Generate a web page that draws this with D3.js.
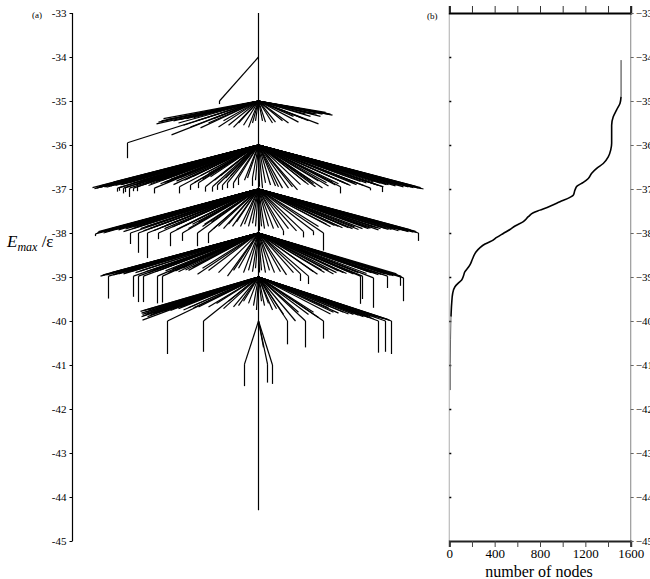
<!DOCTYPE html>
<html><head><meta charset="utf-8">
<script src="https://cdn.jsdelivr.net/npm/d3@7"></script>
<style>body{margin:0;background:#fff}svg{display:block}text{font-family:'Liberation Serif','Times New Roman',serif}</style>
</head><body>
<svg id="c" width="650" height="579"></svg>
<script>
// ---------- panel (a): disconnectivity graph ----------
const energyTicks = [-33,-34,-35,-36,-37,-38,-39,-40,-41,-42,-43,-44,-45];
const trunkTop = -33, trunkBottom = -44.3;
const levels = [-34,-35,-36,-37,-38,-39,-40];
// each branch: [horizontal position, end energy, optional energy of vertical drop]
const branches34 = [[-39,-35.0,-35.07]];
const branches35 = [
 [-131,-35.95,-36.3],[-102,-35.52],[-100,-35.48],[-97,-35.45],[-95,-35.4],[-92,-35.42],[-87,-35.77],[-85,-35.45],
 [-80,-35.5],[-78,-35.42],[-75,-35.55],[-72,-35.4],[-68,-35.59],[-65,-35.38],[-62,-35.45],
 [-58,-35.61],[-50,-35.5],[-45,-35.4],[-40,-35.59],[-35,-35.45],[-30,-35.55],[-25,-35.6],[-20,-35.5],
 [-15,-35.55],[-10,-35.6],[-6,-35.5],[-3,-35.45],
 [74,-35.32],[72,-35.3],[70,-35.3],[68,-35.28],[67,-35.26],[64,-35.3],[62,-35.35],[60,-35.52],[58,-35.3],[55,-35.3],
 [52,-35.35],[50,-35.45],[47,-35.3],[44,-35.39],[40,-35.48],[35,-35.35],
 [30,-35.5],[24,-35.45],[17,-35.48],[14,-35.5],[7,-35.48],[4,-35.45]];
const branches36 = [
 [-166,-36.97],[-164,-36.99],[-162,-36.98],[-160,-36.95],[-158,-36.96],[-157,-36.92],[-155,-36.93],[-154,-36.95],
 [-152,-36.96],[-150,-36.9],[-148,-36.93],[-147,-36.88],[-145,-36.84],[-143,-36.92],[-141,-36.98,-37.06],
 [-139,-36.97,-37.04],[-138,-36.9],[-137,-36.9],[-135,-36.98,-37.1],[-134,-36.88],[-133,-36.97,-37.07],[-130,-36.86],
 [-129,-36.98,-37.18],[-126,-36.87],[-125,-36.98,-37.05],[-122,-36.9],[-121,-36.95,-37.05],[-120,-36.85],[-118,-36.83],
 [-117,-36.8],[-115,-36.9],[-112,-36.85],[-110,-36.92],[-108,-36.88],[-107,-36.78],[-104,-36.98,-37.1],[-102,-36.82],
 [-100,-36.8],[-98,-36.88],[-96,-36.8],[-95,-36.76],[-94,-36.85],[-92,-36.85],[-90,-36.75],[-88,-36.78],
 [-85,-36.9],[-82,-36.82],[-79,-36.95,-37.1],[-78,-36.74],[-74,-36.8],[-72,-36.78],[-70,-36.7],[-68,-36.91,-37.02],
 [-66,-36.72],[-64,-36.85],[-60,-36.86,-36.98],[-58,-36.7],[-56,-36.78],
 [-53,-36.95,-37.06],[-50,-36.65],[-48,-36.72],[-46,-36.95,-37.06],[-44,-36.8],[-41,-36.91,-37.02],[-38,-36.7],
 [-36,-36.91,-37.02],[-33,-36.75],[-31,-36.86,-36.98],[-28,-36.7],
 [-25,-36.86,-36.98],[-20,-36.75,-36.91],[-14,-36.8],[-11,-36.75],[-6,-36.75,-36.93],[-3,-36.8],
 [165,-37.0],[163,-36.99],[162,-36.97],[160,-36.98],[158,-36.96],[157,-36.94],[155,-36.97],[153,-36.95],[152,-36.92],
 [150,-36.95],[148,-36.93],[147,-36.9],[145,-36.95],[143,-36.92],[140,-36.88],[138,-36.91],[137,-36.93],[135,-36.89],
 [133,-36.86],[130,-36.9],[128,-36.9],[125,-36.95],[124,-36.95,-37.07],[122,-36.87],[120,-36.92],[118,-36.9],
 [116,-36.88],[115,-36.84],[112,-36.98,-37.03],[108,-36.86],[105,-36.92],[102,-36.83],[100,-36.88],[98,-36.9],
 [95,-36.85],[92,-36.92],[90,-36.9],[86,-36.86],[82,-36.95,-37.1],[80,-36.88],
 [77,-36.91],[74,-36.84],[70,-36.93],[68,-36.86],[64,-36.98],[60,-36.82],[57,-36.95],[55,-36.88],[52,-36.8],
 [50,-36.9],[47,-36.85],[42,-36.9],[39,-37.02],[34,-36.95],
 [30,-36.98],[24,-36.98],[20,-36.95],[17,-36.93],[12,-36.91],[7,-36.86],[4,-36.98],[1,-36.95]];
const branches37 = [
 [-163,-38.02,-38.07],[-161,-37.99],[-160,-37.97],[-158,-37.98],[-156,-37.96],[-155,-38.0],[-153,-37.97],[-152,-37.94],
 [-150,-37.95],[-149,-37.93],[-147,-37.9],[-145,-37.92],[-143,-37.92],[-140,-37.93],[-139,-37.9],[-137,-37.88],
 [-135,-37.97],[-133,-37.91],[-132,-37.86],[-130,-37.88],
 [-128,-38.0,-38.25],[-126,-37.9],[-124,-37.85],[-122,-37.86],[-120,-38.0,-38.45],[-118,-37.9],[-115,-37.95],
 [-113,-37.86],[-111,-38.0,-38.57],[-109,-37.9],[-108,-37.84],[-105,-37.95],[-103,-37.85],[-100,-38.0,-38.14],
 [-98,-37.88],[-94,-37.9],[-92,-37.82],[-88,-38.0,-38.3],[-86,-37.86],[-82,-37.92],[-80,-37.8],[-76,-38.0,-38.18],
 [-74,-37.84],[-70,-37.9],[-66,-37.8],[-61,-38.0,-38.3],[-60,-37.75],[-56,-37.85],[-54,-37.8],
 [-50,-38.0,-38.23],[-47,-37.75],[-45,-37.9],[-40,-37.85],[-35,-37.9],[-30,-37.8],[-26,-37.85],[-22,-37.75],[-18,-37.85],
 [-14,-37.8],[-10,-37.85],[-6,-37.78],[-3,-37.85],
 [160,-38.0,-38.18],[158,-37.98],[157,-37.96],[155,-37.98],[154,-37.96],[152,-37.93],[150,-37.97],[149,-37.95],
 [146,-37.94],[145,-37.92],[142,-37.93],[140,-37.95],[138,-37.91],[135,-37.9],[133,-37.92],[130,-37.92],[128,-37.9],
 [125,-37.88],[122,-37.9],[120,-37.93],[118,-37.88],[115,-37.86],[112,-37.89],[110,-37.9],[107,-37.86],[104,-37.9],
 [100,-37.92],[96,-37.86],[94,-37.9],[90,-37.88],[86,-37.84],[84,-37.88],[80,-37.85],[76,-37.83],[72,-37.86],
 [68,-37.8],[65,-38.0,-38.4],[60,-37.85],[55,-37.96,-38.05],[45,-37.97,-38.1],[38,-37.95],[30,-37.9],
 [25,-37.95,-38.05],[20,-37.88],[15,-37.9],[10,-37.85],[6,-37.9],[3,-37.85],[1,-37.95]];
const branches38 = [
 [-158,-38.98],[-156,-38.96],[-155,-38.95],[-152,-38.95],[-150,-38.98,-39.49],[-148,-38.93],[-147,-38.9],
 [-145,-38.95],[-143,-38.92],[-140,-38.93],[-139,-38.9],[-137,-38.88],[-135,-38.93],[-133,-38.9],
 [-130,-38.86],[-128,-38.88],[-125,-38.98,-39.45],[-123,-38.9],
 [-120,-38.98,-39.57],[-118,-38.86],[-115,-38.98,-39.57],[-113,-38.88],[-110,-38.9],[-107,-38.85],[-105,-38.84],
 [-103,-38.88],[-101,-38.98,-39.6],[-98,-38.84],[-96,-38.98,-39.58],[-93,-38.86],[-90,-38.9],[-86,-38.82],
 [-83,-38.86],[-80,-38.88],[-76,-38.8],[-73,-38.84],[-70,-38.85],[-66,-38.78],[-61,-38.94],[-56,-38.8],
 [-50,-38.85],[-40,-38.9],[-31,-38.98],[-25,-38.85],[-20,-38.8],
 [-15,-38.9],[-10,-38.85],[-6,-38.88],[-3,-38.8],
 [145,-39.02,-39.55],[143,-38.99],[142,-38.98,-39.2],[140,-38.97],[138,-38.93],[136,-38.95],[135,-38.97],
 [132,-38.96],[129,-38.98,-39.25],[127,-38.93],[125,-38.9],[123,-38.94],[120,-38.95],[118,-38.92],[115,-39.02,-39.7],
 [113,-38.9],[110,-38.88],[108,-38.92],[104,-38.98,-39.5],[102,-38.98,-39.61],[100,-38.9],[97,-38.87],[95,-38.93],
 [90,-38.88],[88,-38.92],[85,-38.9],[80,-38.86],[78,-38.9],[75,-38.93],[70,-38.85],[66,-38.9],[63,-38.84],
 [59,-38.94],[55,-38.88],[50,-38.98,-39.16],
 [42,-38.93,-39.09],[35,-38.9],[28,-38.95],[22,-38.88],[16,-38.9],[11,-38.85],[7,-38.9],[3,-38.85],[1,-38.9]];
const branches39 = [
 [-118,-39.78],[-117,-39.9],[-117,-39.82],[-116,-39.85],[-116,-39.98],[-115,-39.88],[-114,-39.76],[-113,-39.8],
 [-112,-39.84],[-111,-39.9],[-110,-39.75],[-108,-39.86],[-107,-39.78],[-105,-39.82],[-103,-39.8],[-100,-39.7],
 [-98,-39.75],[-95,-39.78],[-91,-40.0,-40.75],[-90,-39.7],[-88,-39.76],[-85,-39.72],[-80,-39.72],[-78,-39.68],
 [-75,-39.75],[-70,-39.7],[-65,-39.7],[-60,-39.68],[-55,-40.0,-40.7],[-50,-39.68],[-42,-39.6],
 [-35,-39.72],[-30,-39.55],[-25,-39.68],[-20,-39.65],[-15,-39.55],[-10,-39.6],[-5,-39.65],[-2,-39.75],
 [133,-40.0,-40.75],[131,-39.98],[129,-39.96],[127,-40.0,-40.7],[125,-39.95],[122,-39.93],[120,-40.0,-40.72],
 [118,-39.92],[115,-39.95],[112,-39.9],[110,-39.92],[108,-39.88],[105,-39.9],[100,-39.87],[95,-39.85],[90,-39.84],
 [85,-39.8],[80,-39.82],[75,-39.8],[72,-39.84],[70,-39.7],[65,-40.0,-40.4],[60,-39.92],[55,-39.8],[50,-39.85],
 [47,-40.0,-40.6],[40,-39.8],[37,-40.0],[29,-40.0,-40.53],
 [25,-39.85],[18,-39.72],[14,-39.75],[10,-39.6],[6,-39.65],[3,-39.55]];
const branches40 = [[-14,-40.98,-41.48],[5,-40.6],[9,-40.98,-41.4],[14,-41.0,-41.43]];
const allBranches = [branches34,branches35,branches36,branches37,branches38,branches39,branches40];

// ---------- panel (b): cumulative number of nodes ----------
const nodeCount = [9,9,15,21,30,50,79,109,123,138,168,189,206,235,271,315,374,418,476,535,580,653,697,741,800,888,976,1064,1094,1109,1129,1182,1226,1256,1300,1358,1402,1424,1432,1432,1446,1476,1506,1515,1515];
const nodeEnergy = [-41.57,-40.96,-39.90,-39.60,-39.37,-39.22,-39.14,-39.07,-38.99,-38.88,-38.78,-38.69,-38.58,-38.43,-38.33,-38.25,-38.18,-38.10,-38.01,-37.92,-37.84,-37.74,-37.63,-37.54,-37.48,-37.39,-37.29,-37.19,-37.14,-37.02,-36.93,-36.85,-36.76,-36.64,-36.53,-36.42,-36.27,-36.11,-35.96,-35.55,-35.36,-35.20,-35.05,-34.90,-34.07];
const nodeTicks = [0,200,400,600,800,1000,1200,1400,1600];
const nodeTickLabels = [0,400,800,1200,1600];

const svg = d3.select('#c');
const serif = "'Liberation Serif','Times New Roman',serif";
const y = d3.scaleLinear().domain([-45,-33]).range([541,13]);
const xa = d3.scaleLinear().domain([-170,170]).range([88.5,428.5]);

// panel (a) axis
const ga = svg.append('g').attr('transform','translate(72.5,0)')
  .call(d3.axisLeft(y).tickValues(energyTicks).tickSize(3).tickPadding(3).tickFormat(d=>String(d)));
ga.attr('font-family',null);
ga.select('.domain').attr('d','M0,13V541').attr('stroke','#000').attr('stroke-width',1.2);
ga.selectAll('text').style('font-family',serif).attr('font-size',11).attr('fill','#000');
svg.append('text').attr('x',32).attr('y',18).style('font-family',serif).attr('font-size',9).text('(a)');
const title = svg.append('text').attr('x',7).attr('y',247).style('font-family',serif).attr('font-size',17);
title.append('tspan').attr('font-style','italic').text('E');
title.append('tspan').attr('font-style','italic').attr('font-size',12).attr('dy',4).text('max');
title.append('tspan').attr('dy',-4).text(' /ε');

// tree
const tree = svg.append('g').attr('stroke','#000').attr('stroke-width',1.2).attr('fill','none');
tree.append('line').attr('x1',xa(0)).attr('x2',xa(0)).attr('y1',y(trunkTop)).attr('y2',y(trunkBottom));
allBranches.forEach((list,i)=>{
  const L = levels[i];
  list.forEach(b=>{
    tree.append('line').attr('x1',xa(0)).attr('y1',y(L)).attr('x2',xa(b[0])).attr('y2',y(b[1]));
    if (b[2] !== undefined) tree.append('line').attr('x1',xa(b[0])).attr('x2',xa(b[0])).attr('y1',y(b[1])).attr('y2',y(b[2]));
  });
});

// panel (b)
const xb = d3.scaleLinear().domain([0,1600]).range([449.3,630.7]);
const gb = svg.append('g');
gb.append('line').attr('x1',xb(0)).attr('x2',xb(0)).attr('y1',y(-33)).attr('y2',y(-45)).attr('stroke','#bbb').attr('stroke-width',1.2);
gb.append('line').attr('x1',xb(1600)).attr('x2',xb(1600)).attr('y1',y(-33)).attr('y2',y(-45)).attr('stroke','#999').attr('stroke-width',1.2);
gb.append('g').attr('transform',`translate(0,${y(-33)})`)
  .call(d3.axisTop(xb).tickValues(nodeTicks).tickSize(7).tickFormat(''))
  .call(g=>{g.select('.domain').attr('stroke','#000').attr('stroke-width',2);g.selectAll('line').attr('stroke','#333');});
const bx = gb.append('g').attr('transform',`translate(0,${y(-45)})`)
  .call(d3.axisBottom(xb).tickValues(nodeTicks).tickSize(6).tickPadding(2).tickFormat(d=>nodeTickLabels.includes(d)?String(d):''));
bx.attr('font-family',null);
bx.select('.domain').attr('stroke','#222').attr('stroke-width',2);
bx.selectAll('line').attr('stroke','#444');
bx.selectAll('text').style('font-family',serif).attr('font-size',13).attr('fill','#000');
const by = gb.append('g').attr('transform',`translate(${xb(1600)},0)`)
  .call(d3.axisRight(y).tickValues(energyTicks).tickSize(3).tickPadding(2).tickFormat(d3.format('d')));
by.attr('font-family',null);
by.select('.domain').remove();
by.selectAll('line').attr('stroke','#666');
by.selectAll('text').style('font-family',serif).attr('font-size',11).attr('fill','#000');
const byl = gb.append('g').attr('transform',`translate(${xb(0)},0)`)
  .call(d3.axisRight(y).tickValues(energyTicks.slice(1,-1)).tickSize(2).tickFormat(''));
byl.select('.domain').remove();
byl.selectAll('line').attr('stroke','#000').attr('stroke-width',1.5);
svg.append('text').attr('x',427).attr('y',19).style('font-family',serif).attr('font-size',9).text('(b)');
svg.append('text').attr('x',539).attr('y',577).attr('text-anchor','middle').style('font-family',serif).attr('font-size',16).text('number of nodes');

const pts = nodeCount.map((n,i)=>[n,nodeEnergy[i]]);
const line = d3.line().x(d=>xb(d[0])).y(d=>y(d[1])).curve(d3.curveMonotoneY);
gb.append('path').datum(pts.slice(0,3)).attr('d',line).attr('fill','none').attr('stroke','#666').attr('stroke-width',1);
gb.append('path').datum(pts.slice(2,pts.length-1)).attr('d',line).attr('fill','none').attr('stroke','#000').attr('stroke-width',1.6);
gb.append('path').datum(pts.slice(pts.length-2)).attr('d',line).attr('fill','none').attr('stroke','#333').attr('stroke-width',1);
</script>
</body></html>
